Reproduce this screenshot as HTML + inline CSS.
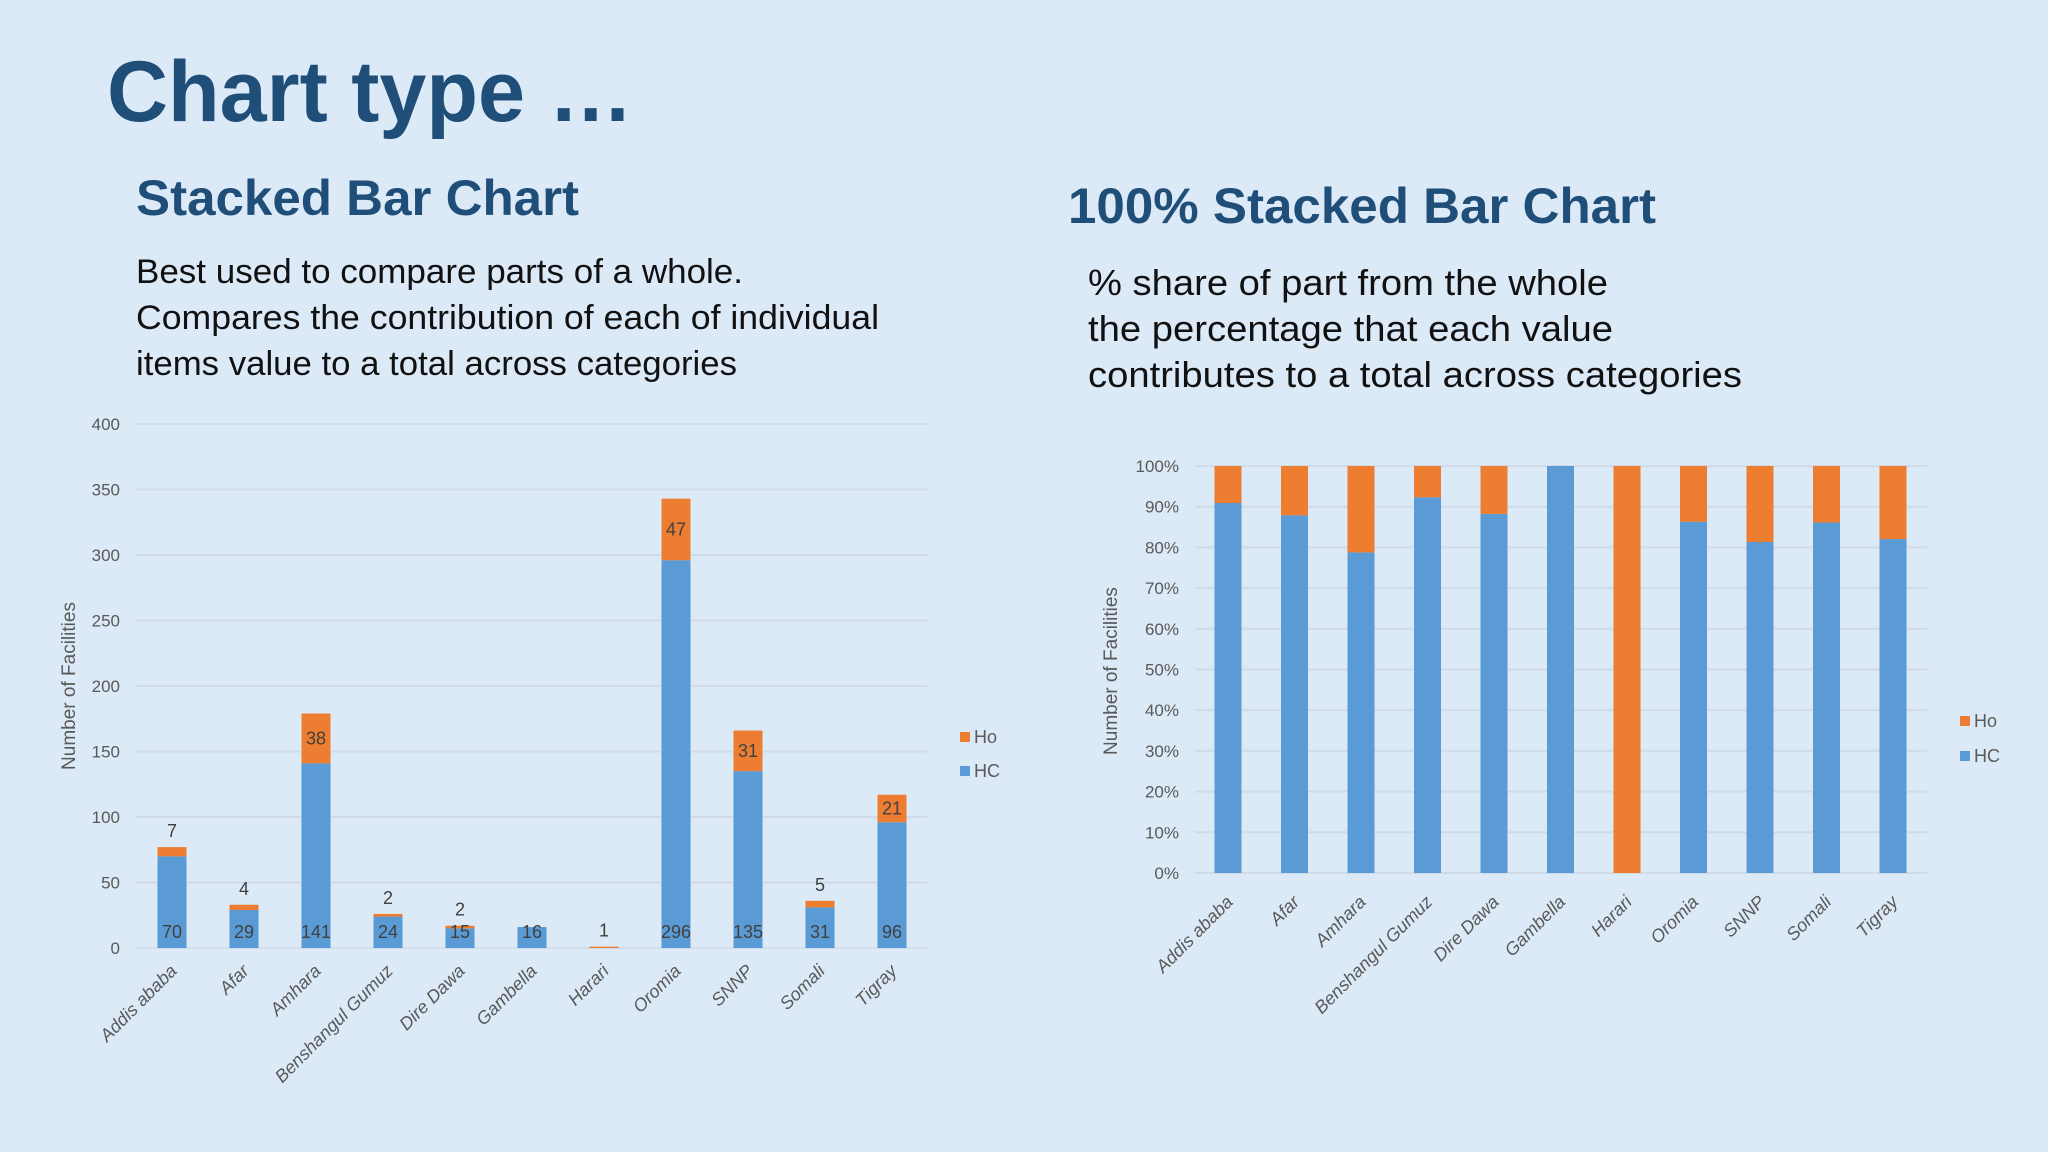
<!DOCTYPE html>
<html><head><meta charset="utf-8"><style>
html,body{margin:0;padding:0;background:#dce9f7;}
svg{display:block;font-family:"Liberation Sans",Arial,sans-serif;}
</style></head><body>
<svg id="s" width="2048" height="1152" viewBox="0 0 2048 1152" xmlns="http://www.w3.org/2000/svg">
<rect x="0" y="0" width="2048" height="1152" fill="#dce9f7"/>
<text x="107" y="121" font-size="86" font-weight="bold" fill="#1f4e79" textLength="526" lengthAdjust="spacingAndGlyphs">Chart type …</text>
<text x="136" y="215" font-size="50" font-weight="bold" fill="#1f4e79" textLength="443" lengthAdjust="spacingAndGlyphs">Stacked Bar Chart</text>
<text x="1068" y="223" font-size="50" font-weight="bold" fill="#1f4e79" textLength="588" lengthAdjust="spacingAndGlyphs">100% Stacked Bar Chart</text>
<g font-size="34" fill="#111">
<text x="136" y="283" textLength="607" lengthAdjust="spacingAndGlyphs">Best used to compare parts of a whole.</text>
<text x="136" y="329" textLength="743" lengthAdjust="spacingAndGlyphs">Compares the contribution of each of individual</text>
<text x="136" y="375" textLength="601" lengthAdjust="spacingAndGlyphs">items value to a total across categories</text>
</g>
<g font-size="36" fill="#111">
<text x="1088" y="295" textLength="520" lengthAdjust="spacingAndGlyphs">% share of part from the whole</text>
<text x="1088" y="341" textLength="525" lengthAdjust="spacingAndGlyphs">the percentage that each value</text>
<text x="1088" y="387" textLength="654" lengthAdjust="spacingAndGlyphs">contributes to a total across categories</text>
</g>
<g id="left"></g>
<g id="right"></g>
</svg>
<script>
const categories = ["Addis ababa","Afar","Amhara","Benshangul Gumuz","Dire Dawa","Gambella","Harari","Oromia","SNNP","Somali","Tigray"];
const hcValues = [70,29,141,24,15,16,0,296,135,31,96];
const hoValues = [7,4,38,2,2,0,1,47,31,5,21];
const leftTicks = [0,50,100,150,200,250,300,350,400];
const rightTicks = [0,10,20,30,40,50,60,70,80,90,100];
const NS = "http://www.w3.org/2000/svg";
const BLUE = "#5b9bd5", ORANGE = "#ed7d31", GRID = "#cfdbe8", TXT = "#595959";
function mk(parent, tag, attrs, text) {
  const e = document.createElementNS(NS, tag);
  for (const k in attrs) e.setAttribute(k, attrs[k]);
  if (text !== undefined) e.textContent = text;
  parent.appendChild(e);
  return e;
}
function drawChart(g, o) {
  const y = v => o.y0 - (v - o.min) / (o.max - o.min) * (o.y0 - o.y1);
  const x = i => o.xc0 + i * o.step;
  o.ticks.forEach(t => {
    const l = mk(g, "line", {x1:o.px0, x2:o.px1, y1:y(t), y2:y(t), stroke:GRID, "stroke-width":2});
    
    
    const tx = mk(g, "text", {x:o.tickX, y:y(t)+6, "text-anchor":"end", "font-size":17, fill:TXT}, t + o.suffix);
    
    
  });
  categories.forEach((c, i) => {
    const total = hcValues[i] + hoValues[i];
    let hc = hcValues[i], ho = hoValues[i];
    if (o.percent) { hc = total ? hc / total * 100 : 0; ho = total ? ho / total * 100 : 0; }
    const bx = x(i) - o.bw / 2;
    const r1 = mk(g, "rect", {x:bx, y:y(hc), width:o.bw, height:y(0)-y(hc), fill:BLUE});
    
    
    const r2 = mk(g, "rect", {x:bx, y:y(hc+ho), width:o.bw, height:y(hc)-y(hc+ho), fill:ORANGE});
    
    
    if (o.labels) {
      if (hcValues[i] > 0) {
        const t1 = mk(g, "text", {x:x(i), y:y(0)-10, "text-anchor":"middle", "font-size":18, fill:"#404040"}, hcValues[i]);
        
        
      }
      if (hoValues[i] > 0) {
        const inside = y(hc) - y(hc+ho) > 20;
        const ly = inside ? (y(hc) + y(hc+ho)) / 2 + 6 : y(hc+ho) - 10;
        const t2 = mk(g, "text", {x:x(i), y:ly, "text-anchor":"middle", "font-size":18, fill:"#404040"}, hoValues[i]);
        
        
      }
    }
    const cx = x(i) + 6, cy = o.y0 + o.labOff;
    const ct = mk(g, "text", {x:cx, y:cy, "text-anchor":"end", "font-size":18, "font-style":"italic", fill:TXT, transform:`rotate(-45 ${cx} ${cy})`}, c);
    
    
  });
  const at = mk(g, "text", {x:o.titleX, y:o.titleY, "text-anchor":"middle", "font-size":19, fill:TXT, transform:`rotate(-90 ${o.titleX} ${o.titleY})`}, "Number of Facilities");
  
  
  [["Ho", ORANGE, o.legY1], ["HC", BLUE, o.legY2]].forEach(([n, col, ly]) => {
    const lg = mk(g, "g", {});
    
    
    mk(lg, "rect", {x:o.legX, y:ly-5, width:10, height:10, fill:col});
    mk(lg, "text", {x:o.legX+14, y:ly+6, "font-size":18, fill:TXT}, n);
  });
}
drawChart(document.getElementById("left"), {min:0,max:400,y0:948,y1:424,px0:136,px1:927,xc0:172,step:72,bw:29,ticks:leftTicks,suffix:"",tickX:120,labels:true,percent:false,titleX:75,titleY:686,legX:960,legY1:737,legY2:771,labOff:24});
drawChart(document.getElementById("right"), {min:0,max:100,y0:873,y1:466,px0:1195,px1:1927,xc0:1228,step:66.5,bw:27,ticks:rightTicks,suffix:"%",tickX:1179,labels:false,percent:true,titleX:1117,titleY:671,legX:1960,legY1:721,legY2:756,labOff:30});
</script>
</body></html>
